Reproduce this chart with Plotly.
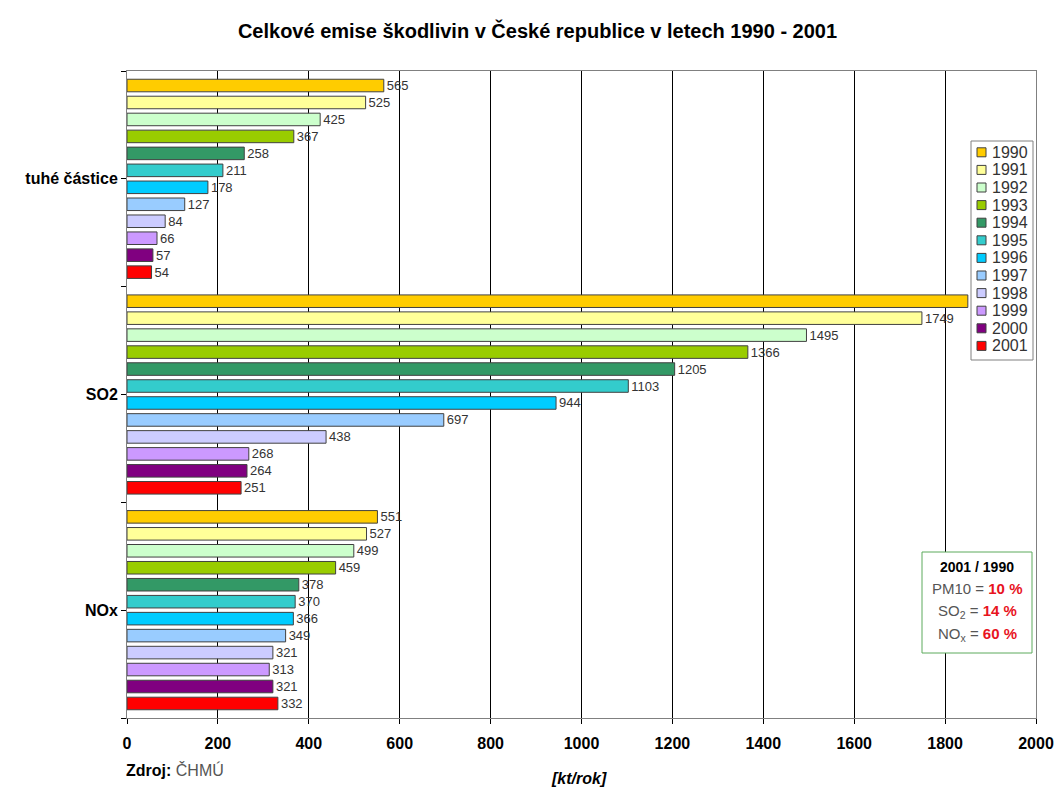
import plotly.graph_objects as go

# Emissions by pollutant (kt/year), one series per year
categories = ["tuhé částice", "SO2", "NOx"]
years = ["1990", "1991", "1992", "1993", "1994", "1995",
         "1996", "1997", "1998", "1999", "2000", "2001"]

tuhe_castice = [565, 525, 425, 367, 258, 211, 178, 127, 84, 66, 57, 54]
so2 = [1850, 1749, 1495, 1366, 1205, 1103, 944, 697, 438, 268, 264, 251]
nox = [551, 527, 499, 459, 378, 370, 366, 349, 321, 313, 321, 332]

year_colors = ["#FFCC00", "#FFFF99", "#CCFFCC", "#99CC00", "#339966", "#33CCCC",
               "#00CCFF", "#99CCFF", "#CCCCFF", "#CC99FF", "#800080", "#FF0000"]

x_ticks = [0, 200, 400, 600, 800, 1000, 1200, 1400, 1600, 1800, 2000]

FONT = "Arial, Liberation Sans, sans-serif"

W, H = 1055, 790
ML, MR, MT, MB = 127, 19, 71, 72
PW, PH = W - ML - MR, H - MT - MB

# value labels past this point would sit underneath the year legend box
LEGEND_LEFT_VALUE = 1800


def px(x):
    """page pixel x -> paper coordinate"""
    return (x - ML) / PW


def py(y):
    """page pixel y -> paper coordinate"""
    return (H - MB - y) / PH


cat_pos = list(range(len(categories)))

fig = go.Figure()
for i, yr in enumerate(years):
    vals = [tuhe_castice[i], so2[i], nox[i]]
    fig.add_trace(go.Bar(
        name=yr,
        y=cat_pos,
        x=vals,
        orientation="h",
        marker=dict(color=year_colors[i], line=dict(color="#404040", width=1)),
        text=[str(v) if v < LEGEND_LEFT_VALUE else "" for v in vals],
        textposition="outside",
        textfont=dict(family=FONT, size=13, color="#333333"),
        constraintext="none",
        cliponaxis=False,
        showlegend=False,
    ))

fig.update_layout(
    width=W, height=H,
    margin=dict(l=ML, r=MR, t=MT, b=MB, autoexpand=False),
    paper_bgcolor="white",
    plot_bgcolor="white",
    font=dict(family=FONT, color="#000000"),
    barmode="group",
    bargap=0.056,
    bargroupgap=0.26,
    showlegend=False,
    title=dict(
        text="<b>Celkové emise škodlivin v České republice v letech 1990 - 2001</b>",
        font=dict(family=FONT, size=20, color="#000000"),
        x=537.5 / W, xref="container", xanchor="center",
        y=1 - 31 / H, yref="container", yanchor="middle",
    ),
    xaxis=dict(
        range=[0, 2000],
        tickvals=x_ticks,
        ticktext=[f"<b>{v}</b>" for v in x_ticks],
        tickfont=dict(family=FONT, size=16, color="#000000"),
        ticklabelstandoff=6,
        showgrid=True, gridcolor="#000000", gridwidth=1,
        showline=True, linecolor="#808080", linewidth=1, mirror=True,
        ticks="outside", ticklen=5, tickcolor="#000000",
        zeroline=False,
        fixedrange=True,
    ),
    yaxis=dict(
        range=[len(categories) - 0.5, -0.5],
        tickvals=cat_pos,
        ticktext=[f"<b>{c}</b>" for c in categories],
        tickfont=dict(family=FONT, size=16, color="#000000"),
        ticks="outside", ticklen=5, tickcolor="#000000",
        minor=dict(ticks="outside", ticklen=5, tickcolor="#000000",
                   tickvals=[p - 0.5 for p in cat_pos] + [cat_pos[-1] + 0.5],
                   showgrid=False),
        showline=True, linecolor="#808080", linewidth=1, mirror=True,
        showgrid=False, zeroline=False,
        fixedrange=True,
    ),
)

# Year legend drawn as a boxed list of swatches
fig.add_shape(type="rect", xref="paper", yref="paper",
              x0=px(971), x1=px(1033), y0=py(360), y1=py(141),
              line=dict(color="#808080", width=1), fillcolor="white", layer="above")
for i, yr in enumerate(years):
    cy = 152.3 + i * 17.6
    fig.add_shape(type="rect", xref="paper", yref="paper",
                  x0=px(977), x1=px(986), y0=py(cy + 4.5), y1=py(cy - 4.5),
                  line=dict(color="#404040", width=1), fillcolor=year_colors[i],
                  layer="above")
    fig.add_annotation(text=yr, xref="paper", yref="paper",
                       x=px(990), y=py(cy), xanchor="left", yanchor="middle",
                       showarrow=False,
                       font=dict(family=FONT, size=16, color="#333333"))

# Axis unit and data source
fig.add_annotation(
    text="<b><i>[kt/rok]</i></b>", xref="paper", yref="paper",
    x=px(579), y=py(779), xanchor="center", yanchor="middle", showarrow=False,
    font=dict(family=FONT, size=16, color="#000000"),
)
fig.add_annotation(
    text="<b>Zdroj:</b> <span style='color:#555555'>ČHMÚ</span>",
    xref="paper", yref="paper",
    x=px(124), y=py(770), xanchor="left", yanchor="middle", showarrow=False,
    font=dict(family=FONT, size=16, color="#000000"),
)

# Ratio box 2001 / 1990
fig.add_shape(
    type="rect", xref="paper", yref="paper",
    x0=px(922), x1=px(1032), y0=py(653), y1=py(552),
    line=dict(color="#5DAA5D", width=1), fillcolor="white", layer="above",
)
box_lines = [
    ("<b>2001 / 1990</b>", 567, 14),
    ("<span style='color:#555555'>PM10 = </span><b><span style='color:#E8141E'>10 %</span></b>", 588, 15),
    ("<span style='color:#555555'>SO<sub>2</sub> = </span><b><span style='color:#E8141E'>14 %</span></b>", 611, 15),
    ("<span style='color:#555555'>NO<sub>x</sub> = </span><b><span style='color:#E8141E'>60 %</span></b>", 634, 15),
]
for txt, ly, fs in box_lines:
    fig.add_annotation(
        text=txt, xref="paper", yref="paper",
        x=px(977), y=py(ly),
        xanchor="center", yanchor="middle", showarrow=False,
        font=dict(family=FONT, size=fs, color="#000000"),
    )

fig.write_html("out.html")
